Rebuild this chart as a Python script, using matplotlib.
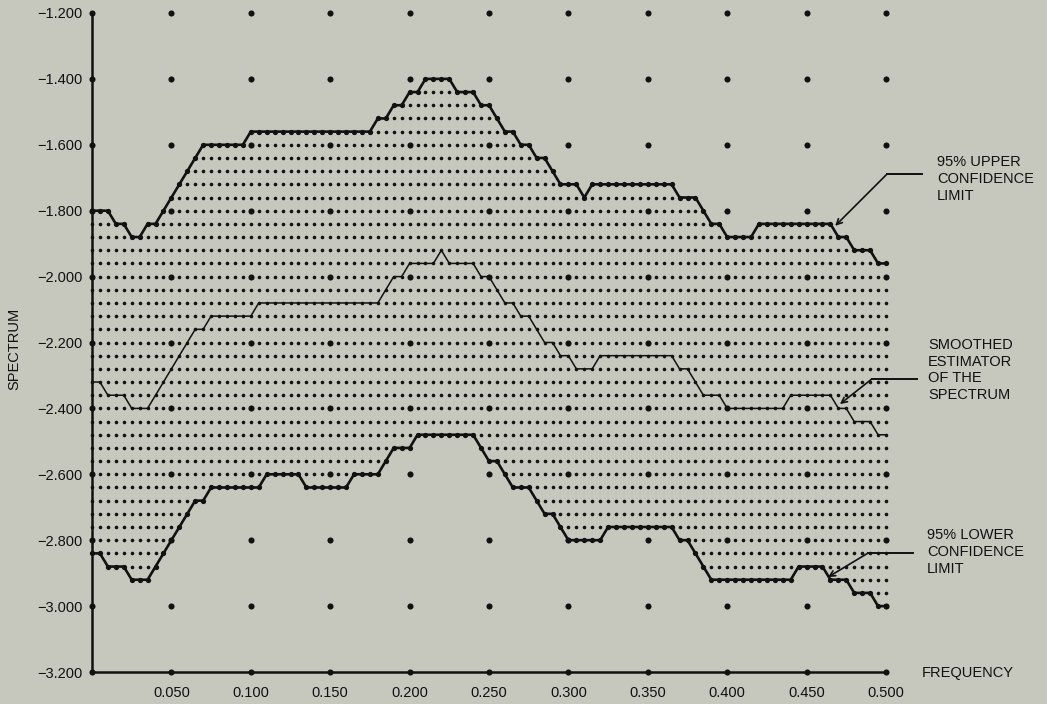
import numpy as np
import matplotlib
import matplotlib.pyplot as plt

matplotlib.use("Agg")

plt.rcParams["font.family"] = ["Liberation Sans", "DejaVu Sans"]

# frequency grid, 101 points from 0 to 0.5
freq = np.round(np.arange(0, 0.5001, 0.005), 3)

upper = [
    -1.80, -1.80, -1.80, -1.84, -1.84, -1.88, -1.88, -1.84, -1.84, -1.80,
    -1.76, -1.72, -1.68, -1.64, -1.60, -1.60, -1.60, -1.60, -1.60, -1.60,
    -1.56, -1.56, -1.56, -1.56, -1.56, -1.56, -1.56, -1.56, -1.56, -1.56,
    -1.56, -1.56, -1.56, -1.56, -1.56, -1.56, -1.52, -1.52, -1.48, -1.48,
    -1.44, -1.44, -1.40, -1.40, -1.40, -1.40, -1.44, -1.44, -1.44, -1.48,
    -1.48, -1.52, -1.56, -1.56, -1.60, -1.60, -1.64, -1.64, -1.68, -1.72,
    -1.72, -1.72, -1.76, -1.72, -1.72, -1.72, -1.72, -1.72, -1.72, -1.72,
    -1.72, -1.72, -1.72, -1.72, -1.76, -1.76, -1.76, -1.80, -1.84, -1.84,
    -1.88, -1.88, -1.88, -1.88, -1.84, -1.84, -1.84, -1.84, -1.84, -1.84,
    -1.84, -1.84, -1.84, -1.84, -1.88, -1.88, -1.92, -1.92, -1.92, -1.96,
    -1.96,
]

smoothed = [
    -2.32, -2.32, -2.36, -2.36, -2.36, -2.40, -2.40, -2.40, -2.36, -2.32,
    -2.28, -2.24, -2.20, -2.16, -2.16, -2.12, -2.12, -2.12, -2.12, -2.12,
    -2.12, -2.08, -2.08, -2.08, -2.08, -2.08, -2.08, -2.08, -2.08, -2.08,
    -2.08, -2.08, -2.08, -2.08, -2.08, -2.08, -2.08, -2.04, -2.00, -2.00,
    -1.96, -1.96, -1.96, -1.96, -1.92, -1.96, -1.96, -1.96, -1.96, -2.00,
    -2.00, -2.04, -2.08, -2.08, -2.12, -2.12, -2.16, -2.20, -2.20, -2.24,
    -2.24, -2.28, -2.28, -2.28, -2.24, -2.24, -2.24, -2.24, -2.24, -2.24,
    -2.24, -2.24, -2.24, -2.24, -2.28, -2.28, -2.32, -2.36, -2.36, -2.36,
    -2.40, -2.40, -2.40, -2.40, -2.40, -2.40, -2.40, -2.40, -2.36, -2.36,
    -2.36, -2.36, -2.36, -2.36, -2.40, -2.40, -2.44, -2.44, -2.44, -2.48,
    -2.48,
]

lower = [
    -2.84, -2.84, -2.88, -2.88, -2.88, -2.92, -2.92, -2.92, -2.88, -2.84,
    -2.80, -2.76, -2.72, -2.68, -2.68, -2.64, -2.64, -2.64, -2.64, -2.64,
    -2.64, -2.64, -2.60, -2.60, -2.60, -2.60, -2.60, -2.64, -2.64, -2.64,
    -2.64, -2.64, -2.64, -2.60, -2.60, -2.60, -2.60, -2.56, -2.52, -2.52,
    -2.52, -2.48, -2.48, -2.48, -2.48, -2.48, -2.48, -2.48, -2.48, -2.52,
    -2.56, -2.56, -2.60, -2.64, -2.64, -2.64, -2.68, -2.72, -2.72, -2.76,
    -2.80, -2.80, -2.80, -2.80, -2.80, -2.76, -2.76, -2.76, -2.76, -2.76,
    -2.76, -2.76, -2.76, -2.76, -2.80, -2.80, -2.84, -2.88, -2.92, -2.92,
    -2.92, -2.92, -2.92, -2.92, -2.92, -2.92, -2.92, -2.92, -2.92, -2.88,
    -2.88, -2.88, -2.88, -2.92, -2.92, -2.92, -2.96, -2.96, -2.96, -3.00,
    -3.00,
]

x_ticks = [0.05, 0.10, 0.15, 0.20, 0.25, 0.30, 0.35, 0.40, 0.45, 0.50]
x_labels = ["0.050", "0.100", "0.150", "0.200", "0.250",
            "0.300", "0.350", "0.400", "0.450", "0.500"]
y_ticks = [-3.2, -3.0, -2.8, -2.6, -2.4, -2.2, -2.0, -1.8, -1.6, -1.4, -1.2]
y_labels = ["\u22123.200", "\u22123.000", "\u22122.800", "\u22122.600",
            "\u22122.400", "\u22122.200", "\u22122.000", "\u22121.800",
            "\u22121.600", "\u22121.400", "\u22121.200"]

upper = np.array(upper)
smoothed = np.array(smoothed)
lower = np.array(lower)

bg = "#c6c8be"
ink = "#111111"
fs = 10.5

fig = plt.figure(figsize=(10.47, 7.04), dpi=100, facecolor=bg)
ax = fig.add_axes([92 / 1047, 32 / 704, 794 / 1047, 659 / 704])
ax.set_facecolor(bg)
ax.set_xlim(0, 0.5)
ax.set_ylim(-3.2, -1.2)

# dotted band between the confidence limits (printer grid, 0.04 in spectrum)
rows = np.round(-1.2 - 0.04 * np.arange(51), 2)
fx, fy = [], []
for f, lo, hi in zip(freq, lower, upper):
    keep = rows[(rows >= lo - 1e-6) & (rows <= hi + 1e-6)]
    fx.extend([f] * len(keep))
    fy.extend(keep)
ax.plot(fx, fy, "o", ms=2.6, color=ink, mec="none", clip_on=False, zorder=2)

# coarse grid dots at the tick positions
gx, gy = np.meshgrid(np.round(np.arange(0, 0.5001, 0.05), 2), y_ticks)
ax.plot(gx.ravel(), gy.ravel(), "o", ms=4.4, color=ink, mec="none",
        clip_on=False, zorder=2)

# confidence limits and the smoothed estimate
for curve in (upper, lower):
    ax.plot(freq, curve, "-o", lw=1.9, ms=3.8, color=ink, mec="none",
            clip_on=False, zorder=3)
ax.plot(freq, smoothed, "-", lw=1.1, color=ink, clip_on=False, zorder=3)

for side in ("top", "right"):
    ax.spines[side].set_visible(False)
for side in ("left", "bottom"):
    ax.spines[side].set_linewidth(1.8)
    ax.spines[side].set_color(ink)

ax.set_xticks(x_ticks)
ax.set_xticklabels(x_labels)
ax.set_yticks(y_ticks)
ax.set_yticklabels(y_labels)
ax.tick_params(axis="both", length=0, labelsize=fs, colors=ink)
ax.tick_params(axis="x", pad=10)
ax.tick_params(axis="y", pad=7)

ax.text(-0.0491, -2.22, "SPECTRUM", rotation=90, ha="center", va="center",
        fontsize=fs, color=ink, clip_on=False)
ax.text(0.5227, -3.203, "FREQUENCY", ha="left", va="center",
        fontsize=fs, color=ink, clip_on=False)

# labels with leader lines
notes = [
    ("95% UPPER\nCONFIDENCE\nLIMIT", (0.532, -1.704),
     (0.5227, 0.5006, -1.689), (0.468, -1.846)),
    ("SMOOTHED\nESTIMATOR\nOF THE\nSPECTRUM", (0.5265, -2.2835),
     (0.5195, 0.491, -2.311), (0.471, -2.387)),
    ("95% LOWER\nCONFIDENCE\nLIMIT", (0.5258, -2.836),
     (0.517, 0.4887, -2.839), (0.4635, -2.912)),
]
for label, (tx, ty), (h0, h1, hy), tip in notes:
    ax.text(tx, ty, label, ha="left", va="center", fontsize=fs,
            color=ink, linespacing=1.25, clip_on=False)
    ax.plot([h0, h1], [hy, hy], "-", lw=1.4, color=ink, clip_on=False)
    ax.annotate("", xy=tip, xytext=(h1, hy),
                arrowprops=dict(arrowstyle="->", lw=1.2, color=ink,
                                shrinkA=0, shrinkB=0, mutation_scale=10),
                annotation_clip=False)

fig.savefig("out.png", dpi=100, facecolor=bg)
